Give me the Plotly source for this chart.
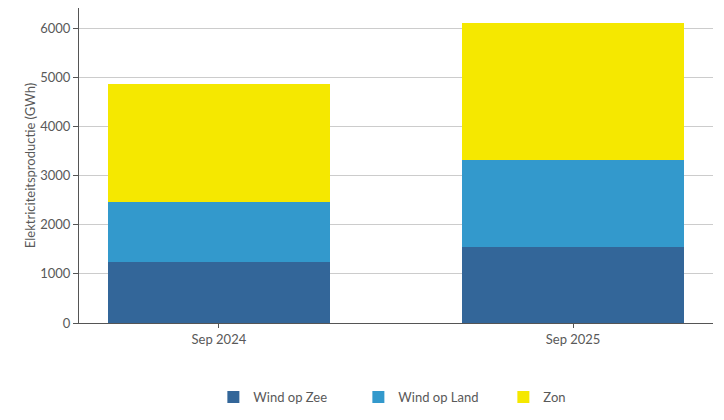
import plotly.graph_objects as go

categories = ["Sep 2024", "Sep 2025"]
wind_zee = [1240, 1545]
wind_land = [1230, 1782]
zon = [2401, 2789]

series = [
    ("Wind op Zee", wind_zee, "#336699"),
    ("Wind op Land", wind_land, "#3399cc"),
    ("Zon", zon, "#f5e800"),
]

fig = go.Figure()
for name, vals, col in series:
    fig.add_trace(go.Bar(x=categories, y=vals, name=name, marker_color=col,
                         marker_line_width=0, width=0.625))

font_fam = "Lato, 'Open Sans', sans-serif"
txt = "#595959"
fig.update_layout(
    barmode="stack",
    width=716, height=412,
    margin=dict(l=71, r=11, t=0, b=97),
    plot_bgcolor="white", paper_bgcolor="white",
    font=dict(family=font_fam, size=13, color=txt),
    xaxis=dict(range=[-0.395, 1.395], showline=True, linecolor="#555555", linewidth=1,
               ticks="outside", ticklen=4, tickcolor="#555555", showgrid=False,
               automargin=False, tickfont=dict(size=13, color=txt)),
    yaxis=dict(range=[0, 6420], tickvals=[0, 1000, 2000, 3000, 4000, 5000, 6000],
               showline=True, linecolor="#555555", linewidth=1,
               ticks="outside", ticklen=5, tickcolor="#555555",
               gridcolor="#cccccc", gridwidth=1, zeroline=False, automargin=False,
               title=dict(text="Elektriciteitsproductie (GWh)", font=dict(size=13, color=txt), standoff=1),
               tickfont=dict(size=13, color=txt)),
    legend=dict(orientation="h", x=0.555, xanchor="center", xref="paper",
                y=0.056, yanchor="middle", yref="container",
                font=dict(size=13, color=txt), entrywidth=100, traceorder="normal"),
)

fig.write_html("out.html")
